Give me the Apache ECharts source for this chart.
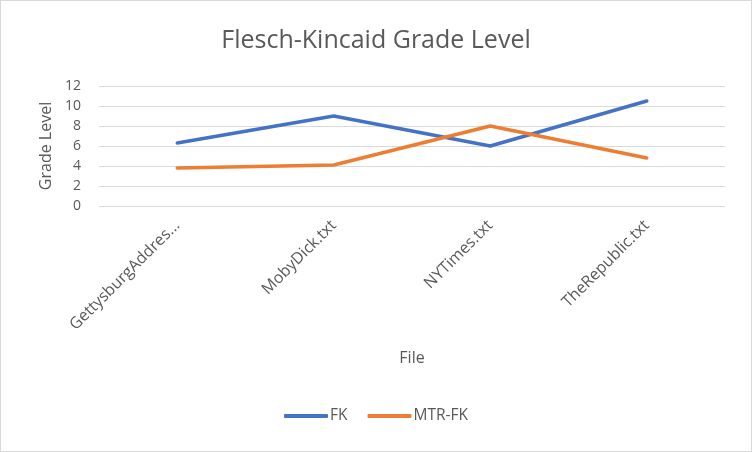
<!DOCTYPE html>
<html>
<head>
    <meta charset="utf-8" />
    <script type="text/javascript" src="https://cdn.jsdelivr.net/npm/echarts@6/dist/echarts.min.js"></script>
    <title>Flesch-Kincaid Grade Level</title>
    <style>
        html, body { margin: 0; padding: 0; background: #fff; }
        #main { width: 750px; height: 450px; border: 1px solid #d9d9d9; }
    </style>
</head>
<body>
    <div id="main"></div>
    <script type="text/javascript">
    // data
    var files = ['GettysburgAddress.txt', 'MobyDick.txt', 'NYTimes.txt', 'TheRepublic.txt'];
    var fk = [6.3, 9.0, 6.0, 10.5];
    var mtrFk = [3.8, 4.1, 8.0, 4.8];
    var yTicks = [0, 2, 4, 6, 8, 10, 12];

    var textColor = '#595959';
    var fontName = '"Open Sans", sans-serif';

    var myChart = echarts.init(document.getElementById('main'));
    var option = {
        animation: false,
        textStyle: { fontFamily: fontName },
        title: {
            text: 'Flesch-Kincaid Grade Level',
            left: 'center',
            top: 22,
            textStyle: { color: textColor, fontSize: 25, fontWeight: 'normal', fontFamily: fontName }
        },
        legend: {
            bottom: 22,
            left: 'center',
            itemWidth: 44,
            itemHeight: 4,
            itemGap: 20,
            icon: 'roundRect',
            textStyle: { color: textColor, fontSize: 15.5, fontFamily: fontName, padding: [0, 0, 0, -3] },
            data: ['FK', 'MTR-FK']
        },
        grid: {
            left: 98,
            right: 26,
            top: 85,
            height: 120
        },
        xAxis: {
            type: 'category',
            data: files,
            name: 'File',
            nameLocation: 'middle',
            nameGap: 144,
            nameTextStyle: { color: textColor, fontSize: 16, fontFamily: fontName },
            axisLine: { show: false },
            axisTick: { show: false },
            axisLabel: {
                rotate: 45,
                color: textColor,
                fontSize: 16,
                fontFamily: fontName,
                margin: 17,
                width: 153,
                overflow: 'truncate',
                ellipsis: '...'
            }
        },
        yAxis: {
            type: 'value',
            min: yTicks[0],
            max: yTicks[yTicks.length - 1],
            interval: 2,
            name: 'Grade Level',
            nameLocation: 'middle',
            nameGap: 40,
            nameTextStyle: { color: textColor, fontSize: 16, fontFamily: fontName },
            axisLine: { show: false },
            axisTick: { show: false },
            axisLabel: { color: textColor, fontSize: 14, fontFamily: fontName, margin: 18 },
            splitLine: { lineStyle: { color: '#d9d9d9', width: 1 } }
        },
        series: [{
                name: 'FK',
                type: 'line',
                data: fk,
                symbol: 'none',
                color: '#4472C4',
                lineStyle: { width: 3.5, cap: 'round', join: 'round' }
            },
            {
                name: 'MTR-FK',
                type: 'line',
                data: mtrFk,
                symbol: 'none',
                color: '#ED7D31',
                lineStyle: { width: 3.5, cap: 'round', join: 'round' }
            }
        ]
    };
    myChart.setOption(option);
    </script>
</body>
</html>
